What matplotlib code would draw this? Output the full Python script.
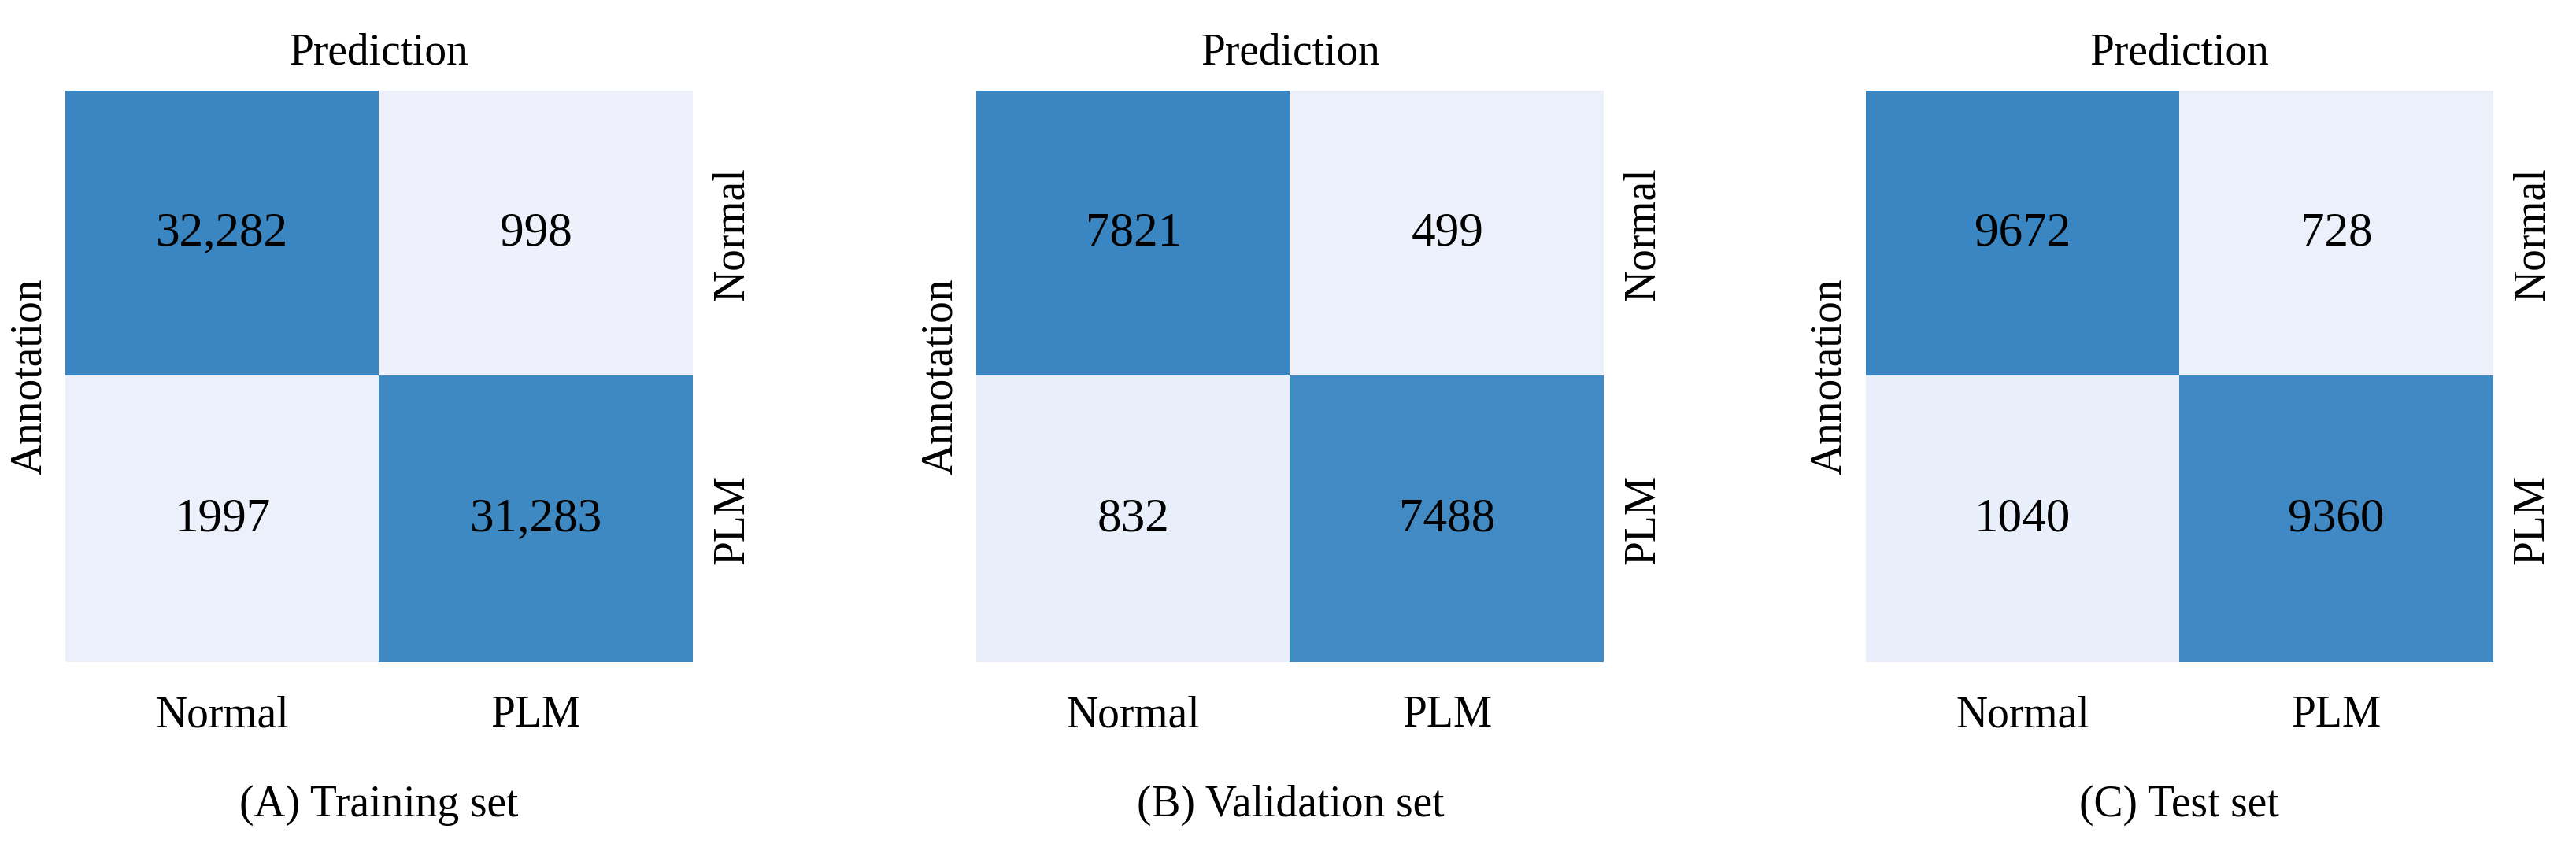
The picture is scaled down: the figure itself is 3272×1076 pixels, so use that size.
import numpy as np
import matplotlib.pyplot as plt
from matplotlib.colors import LinearSegmentedColormap

plt.rcParams['font.family'] = ['Liberation Serif', 'DejaVu Serif']

classes = ["Normal", "PLM"]
titles = ["(A) Training set", "(B) Validation set", "(C) Test set"]
train = [[32282, 998], [1997, 31283]]
valid = [[7821, 499], [832, 7488]]
test = [[9672, 728], [1040, 9360]]
mats = [train, valid, test]

cmap = LinearSegmentedColormap.from_list(
    "cm", [(0, "#f0f3fd"), (0.15, "#e6edf9"), (1, "#3a86c2")])

fig = plt.figure(figsize=(32.73, 10.76), dpi=100)
lefts = [0.0254, 0.379, 0.724]
for left, m, title in zip(lefts, mats, titles):
    ax = fig.add_axes([left, 0.218, 0.2435, 0.675])
    m = np.array(m)
    ax.imshow(m, cmap=cmap, vmin=0, vmax=m.max(), aspect='auto')
    for i in range(2):
        for j in range(2):
            v = m[i, j]
            txt = f"{v:,}" if v >= 10000 else str(v)
            ax.text(j, i, txt, ha='center', va='center', fontsize=44)
    ax.set_xticks([0, 1])
    ax.set_xticklabels(classes, fontsize=40)
    ax.set_yticks([])
    ax.tick_params(length=0, pad=30)
    for s in ax.spines.values():
        s.set_visible(False)
    ax.set_title("Prediction", fontsize=40, pad=24)
    ax.set_ylabel("Annotation", fontsize=40, labelpad=14)
    for i, c in enumerate(classes):
        ax.text(1.56, i, c, rotation=90, ha='left', va='center', fontsize=40)
    ax.text(0.5, -0.25, title, transform=ax.transAxes, ha='center', va='center', fontsize=40)

fig.savefig("out.png", dpi=100)
